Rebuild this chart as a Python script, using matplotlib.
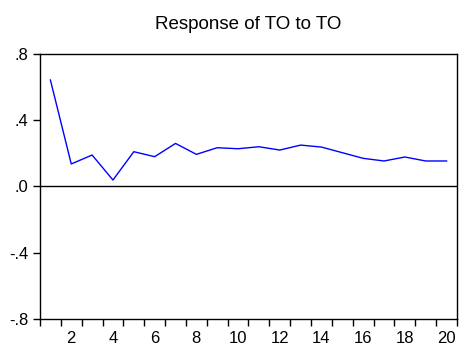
import numpy as np
import matplotlib.pyplot as plt

plt.rcParams['font.family'] = ['Liberation Sans', 'DejaVu Sans']

periods = np.arange(1, 21)
response = [0.643, 0.136, 0.190, 0.039, 0.210, 0.180, 0.260, 0.194, 0.234, 0.228,
            0.240, 0.220, 0.250, 0.238, 0.204, 0.170, 0.154, 0.178, 0.154, 0.154]
yticks = [0.8, 0.4, 0.0, -0.4, -0.8]
ylabels = ['.8', '.4', '.0', '-.4', '-.8']
xlabels = np.arange(2, 21, 2)

fig = plt.figure(figsize=(4.59, 3.45), dpi=100)
ax = fig.add_axes([0.0871, 0.0754, 0.9085, 0.7681])

ax.plot(periods, response, color='#0000ff', lw=1.0)
ax.axhline(0, color='black', lw=1.0)

ax.set_xlim(0.5, 20.5)
ax.set_ylim(-0.8, 0.8)

# period labels sit between the tick marks
ax.set_xticks(xlabels)
ax.set_xticklabels([str(v) for v in xlabels])
ax.tick_params(axis='x', which='major', length=0, pad=8.5, labelsize=12)
ax.set_xticks(np.arange(0.5, 21, 1), minor=True)
ax.tick_params(axis='x', which='minor', length=5, width=1, direction='out')

ax.set_yticks(yticks)
ax.set_yticklabels(ylabels)
ax.tick_params(axis='y', length=5, width=1, direction='out', pad=3.5, labelsize=12)

for s in ax.spines.values():
    s.set_linewidth(1.0)

ax.set_title('Response of TO to TO', fontsize=13.5, pad=18)

fig.savefig('out.png', dpi=100)
